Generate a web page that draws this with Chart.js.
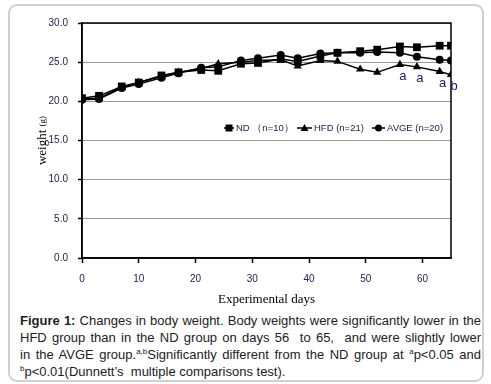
<!DOCTYPE html>
<html>
<head>
<meta charset="utf-8">
<script src="https://cdn.jsdelivr.net/npm/chart.js@4.4.0/dist/chart.umd.min.js"></script>
<style>
  body { margin: 0; background: #fff; }
  #frame { position: absolute; left: 8px; top: 4px; width: 472px; height: 374px; border: 2px solid #d0d0d0; border-radius: 9px; }
  #wrap { position: absolute; left: 0; top: 0; width: 491px; height: 310px; }
  #caption { position: absolute; left: 20px; top: 312px; width: 461px; font-family: Arial, 'Liberation Sans', sans-serif; font-size: 13px; line-height: 17px; color: #222; }
  #caption div { white-space: nowrap; text-align: justify; text-align-last: justify; }
  #caption div.last { text-align-last: left; }
  #caption sup { font-size: 8px; line-height: 0; }
</style>
</head>
<body>
<div id="frame"></div>
<div id="wrap"><canvas id="weightChart" width="491" height="310"></canvas></div>
<div id="caption">
  <div><b>Figure 1:</b> Changes in body weight. Body weights were significantly lower in the</div>
  <div>HFD group than in the ND group on days 56&nbsp; to 65,&nbsp; and were slightly lower</div>
  <div>in the AVGE group.<sup>a,b</sup>Significantly different from the ND group at <sup>a</sup>p&lt;0.05 and</div>
  <div class="last"><sup>b</sup>p&lt;0.01(Dunnett’s&nbsp; multiple comparisons test).</div>
</div>
<script>
// dias del experimento y pesos (g)
const days = [0, 3, 7, 10, 14, 17, 21, 24, 28, 31, 35, 38, 42, 45, 49, 52, 56, 59, 63, 65];
const ndWeight   = [20.4, 20.7, 21.9, 22.4, 23.3, 23.7, 24.0, 23.9, 24.8, 24.9, 25.4, 25.1, 25.8, 26.2, 26.4, 26.6, 27.0, 26.9, 27.1, 27.1];
const hfdWeight  = [20.3, 20.4, 21.8, 22.4, 23.2, 23.7, 24.2, 24.8, 25.0, 25.2, 25.3, 24.5, 25.2, 25.1, 24.1, 23.7, 24.7, 24.4, 23.8, 23.4];
const avgeWeight = [20.2, 20.3, 21.7, 22.2, 23.0, 23.6, 24.3, 24.4, 25.2, 25.5, 25.9, 25.5, 26.1, 26.2, 26.2, 26.3, 26.2, 25.7, 25.3, 25.2];
// marcas de significancia sobre HFD
const hfdMarks = ['', '', '', '', '', '', '', '', '', '', '', '', '', '', '', '', 'a', 'a', 'a', 'b'];
const seriesLabels = ['ND （n=10）', 'HFD (n=21)', 'AVGE (n=20)'];

const navy = '#222255';
const tickFont = { family: "'Liberation Sans Narrow', 'Liberation Sans', Arial", size: 10 };

function toPoints(vals) {
  return vals.map((v, i) => ({ x: days[i], y: v }));
}

function makeSet(label, vals, style, r) {
  return {
    label: label,
    data: toPoints(vals),
    borderColor: '#000',
    backgroundColor: '#000',
    borderWidth: 1.5,
    pointStyle: style,
    pointRadius: r,
    pointBorderWidth: 0,
    tension: 0,
    fill: false
  };
}

// borde negro del area del grafico
const frameBox = {
  id: 'frameBox',
  afterDatasetsDraw(chart) {
    const a = chart.chartArea, c = chart.ctx;
    c.save();
    c.strokeStyle = '#000';
    c.lineWidth = 1.5;
    c.strokeRect(a.left, a.top, a.right - a.left, a.bottom - a.top);
    c.restore();
  }
};

// letras a / b debajo de HFD
const marksPlugin = {
  id: 'marks',
  afterDatasetsDraw(chart) {
    const meta = chart.getDatasetMeta(1), c = chart.ctx;
    c.save();
    c.fillStyle = '#1a1a6e';
    c.font = '13px Arial, "Liberation Sans"';
    c.textAlign = 'center';
    c.textBaseline = 'middle';
    hfdMarks.forEach((m, i) => {
      if (!m) return;
      const p = meta.data[i];
      c.fillText(m, p.x + 3, p.y + 12);
    });
    c.restore();
  }
};

// leyenda dentro del grafico
const innerLegend = {
  id: 'innerLegend',
  afterDraw(chart) {
    const c = chart.ctx;
    const y = chart.chartArea.top + 105;
    const items = [[224, 234, 'rect'], [297, 312, 'triangle'], [372, 385, 'circle']];
    c.save();
    c.font = "9.5px 'Liberation Sans Narrow', 'Liberation Sans', Arial";
    c.textBaseline = 'middle';
    items.forEach((it, i) => {
      const x0 = it[0], x1 = it[1], mx = (x0 + x1) / 2;
      c.strokeStyle = '#000';
      c.lineWidth = 1.5;
      c.beginPath(); c.moveTo(x0, y); c.lineTo(x1, y); c.stroke();
      c.fillStyle = '#000';
      c.beginPath();
      if (it[2] === 'rect') c.rect(mx - 3.5, y - 3.5, 7, 7);
      else if (it[2] === 'triangle') { c.moveTo(mx, y - 4); c.lineTo(mx + 4, y + 3); c.lineTo(mx - 4, y + 3); c.closePath(); }
      else c.arc(mx, y, 3.5, 0, Math.PI * 2);
      c.fill();
      c.fillStyle = navy;
      c.fillText(seriesLabels[i], x1 + 2, y);
    });
    c.restore();
  }
};

// titulo del eje y con (g) mas chico
const yTitle = {
  id: 'yTitle',
  afterDraw(chart) {
    const c = chart.ctx;
    const a = chart.chartArea;
    const cy = (a.top + a.bottom) / 2;
    c.save();
    c.translate(42.5, cy);
    c.rotate(-Math.PI / 2);
    c.fillStyle = '#000';
    c.textBaseline = 'middle';
    c.font = "13px 'Liberation Serif', 'Times New Roman', serif";
    const w1 = c.measureText('weight ').width;
    c.font = "9px 'Liberation Serif', 'Times New Roman', serif";
    const w2 = c.measureText('(g)').width;
    const x = -(w1 + w2) / 2;
    c.font = "13px 'Liberation Serif', 'Times New Roman', serif";
    c.fillText('weight ', x, 0);
    c.font = "9px 'Liberation Serif', 'Times New Roman', serif";
    c.fillText('(g)', x + w1, 0);
    c.restore();
  }
};

const grafico = new Chart(document.getElementById('weightChart'), {
  type: 'line',
  data: {
    datasets: [
      makeSet(seriesLabels[0], ndWeight, 'rect', 5.5),
      makeSet(seriesLabels[1], hfdWeight, 'triangle', 4.8),
      makeSet(seriesLabels[2], avgeWeight, 'circle', 4)
    ]
  },
  options: {
    responsive: false,
    animation: false,
    layout: { padding: { left: 0, right: 40, top: 23, bottom: 0 } },
    plugins: { legend: { display: false }, tooltip: { enabled: false } },
    scales: {
      x: {
        type: 'linear',
        min: 0,
        max: 65,
        afterFit(scale) { scale.height = 52; },
        border: { display: true, color: '#000', width: 1.5 },
        grid: { drawOnChartArea: false, drawTicks: true, tickLength: 5, tickColor: '#000', tickWidth: 1.5 },
        ticks: { stepSize: 10, includeBounds: false, color: navy, font: tickFont, padding: 10, maxRotation: 0 },
        title: {
          display: true,
          text: 'Experimental days',
          color: '#000',
          font: { family: "'Liberation Serif', 'Times New Roman', serif", size: 13 },
          padding: { top: 4, bottom: 3 }
        }
      },
      y: {
        min: 0,
        max: 30,
        afterFit(scale) { scale.width = 82; },
        border: { display: true, color: '#000', width: 1.5 },
        grid: { color: '#999', lineWidth: 1, tickLength: 4, tickColor: '#000', tickWidth: 1.5 },
        ticks: {
          stepSize: 5,
          color: navy,
          font: tickFont,
          padding: 10,
          callback: v => v.toFixed(1)
        }
      }
    }
  },
  plugins: [frameBox, marksPlugin, innerLegend, yTitle]
});
</script>
</body>
</html>
